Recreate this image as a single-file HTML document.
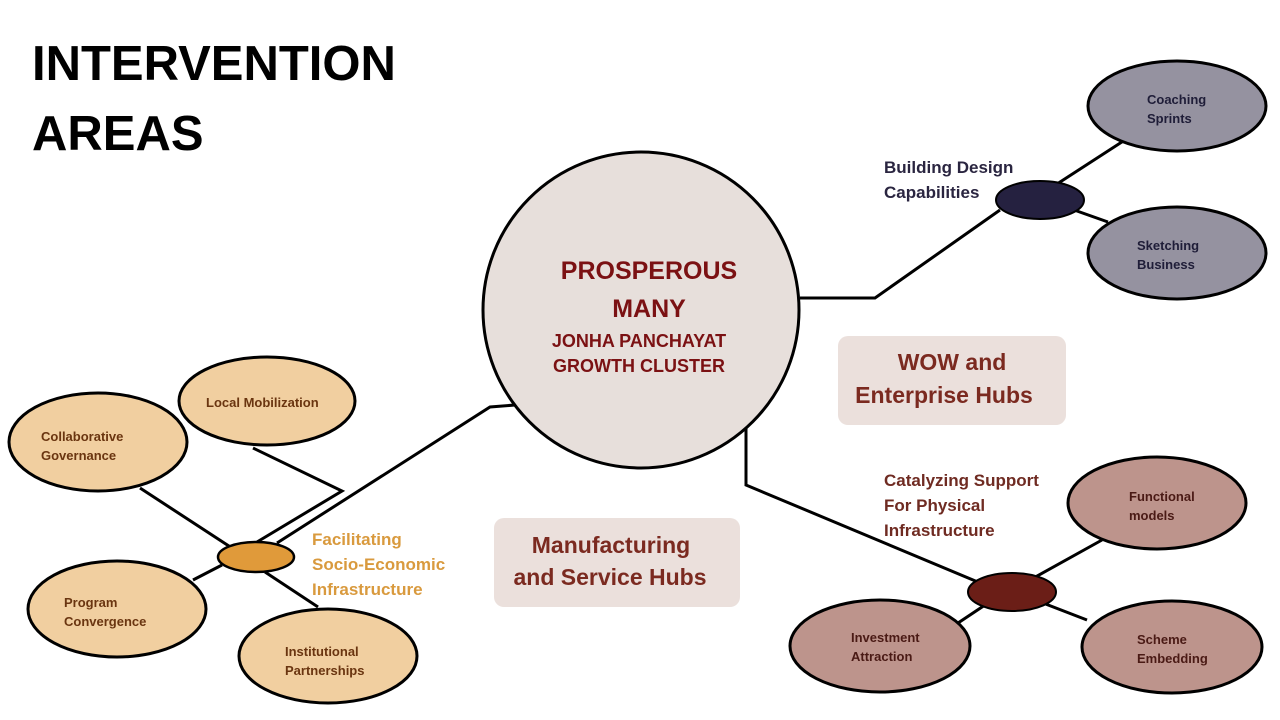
<!DOCTYPE html>
<html><head><meta charset="utf-8"><style>
html,body{margin:0;padding:0;background:#fff;}
svg{display:block;}
text{font-family:"Liberation Sans",sans-serif;font-weight:bold;}
</style></head><body>
<svg width="1280" height="720" viewBox="0 0 1280 720" xmlns="http://www.w3.org/2000/svg">
<rect width="1280" height="720" fill="#fff"/>
<text x="32" y="80" font-size="49" fill="#000">INTERVENTION</text>
<text x="32" y="150" font-size="49" fill="#000">AREAS</text>

<g stroke="#000" stroke-width="3" fill="none">
<polyline points="800,298 875,298 1000,210"/>
<line x1="1040" y1="195" x2="1128" y2="138"/>
<line x1="1060" y1="205" x2="1108" y2="222"/>
<polyline points="746,428 746,485 985,585"/>
<line x1="1012" y1="590" x2="1102" y2="540"/>
<line x1="1000" y1="595" x2="958" y2="623"/>
<line x1="1030" y1="598" x2="1087" y2="620"/>
<polyline points="515,405 490,407 277,543"/>
<polyline points="253,448 342,491 257,542"/>
<line x1="140" y1="488" x2="235" y2="550"/>
<line x1="193" y1="580" x2="222" y2="565"/>
<line x1="265" y1="572" x2="318" y2="607"/>
</g>

<circle cx="641" cy="310" r="158" fill="#e7dfdb" stroke="#000" stroke-width="3"/>
<g fill="#7b1113" text-anchor="middle">
<text x="649" y="279" font-size="25">PROSPEROUS</text>
<text x="649" y="317" font-size="25">MANY</text>
<text x="639" y="347" font-size="18">JONHA PANCHAYAT</text>
<text x="639" y="372" font-size="18">GROWTH CLUSTER</text>
</g>

<ellipse cx="1040" cy="200" rx="44" ry="19" fill="#252140" stroke="#000" stroke-width="2"/>
<ellipse cx="1177" cy="106" rx="89" ry="45" fill="#9592a0" stroke="#000" stroke-width="3"/>
<ellipse cx="1177" cy="253" rx="89" ry="46" fill="#9592a0" stroke="#000" stroke-width="3"/>
<g fill="#1f1d38" font-size="13">
<text x="1147" y="104">Coaching</text><text x="1147" y="123">Sprints</text>
<text x="1137" y="250">Sketching</text><text x="1137" y="269">Business</text>
</g>
<g fill="#2a2540" font-size="17">
<text x="884" y="173">Building Design</text><text x="884" y="198">Capabilities</text>
</g>

<rect x="838" y="336" width="228" height="89" rx="10" fill="#ebe0dc"/>
<g fill="#7b2a20" font-size="23" text-anchor="middle">
<text x="952" y="370">WOW and</text><text x="944" y="403">Enterprise Hubs</text>
</g>
<rect x="494" y="518" width="246" height="89" rx="10" fill="#ebe0dc"/>
<g fill="#7b2a20" font-size="23" text-anchor="middle">
<text x="611" y="553">Manufacturing</text><text x="610" y="585">and Service Hubs</text>
</g>

<ellipse cx="1012" cy="592" rx="44" ry="19" fill="#6b1e17" stroke="#000" stroke-width="2"/>
<ellipse cx="1157" cy="503" rx="89" ry="46" fill="#bd948c" stroke="#000" stroke-width="3"/>
<ellipse cx="880" cy="646" rx="90" ry="46" fill="#bd948c" stroke="#000" stroke-width="3"/>
<ellipse cx="1172" cy="647" rx="90" ry="46" fill="#bd948c" stroke="#000" stroke-width="3"/>
<g fill="#4a1a15" font-size="13">
<text x="1129" y="501">Functional</text><text x="1129" y="520">models</text>
<text x="851" y="642">Investment</text><text x="851" y="661">Attraction</text>
<text x="1137" y="644">Scheme</text><text x="1137" y="663">Embedding</text>
</g>
<g fill="#6f2b22" font-size="17">
<text x="884" y="486">Catalyzing Support</text><text x="884" y="511">For Physical</text><text x="884" y="536">Infrastructure</text>
</g>

<ellipse cx="256" cy="557" rx="38" ry="15" fill="#e09a3a" stroke="#000" stroke-width="2.5"/>
<g fill="#f1cfa0" stroke="#000" stroke-width="3">
<ellipse cx="267" cy="401" rx="88" ry="44"/>
<ellipse cx="98" cy="442" rx="89" ry="49"/>
<ellipse cx="117" cy="609" rx="89" ry="48"/>
<ellipse cx="328" cy="656" rx="89" ry="47"/>
</g>
<g fill="#6a3510" font-size="13">
<text x="206" y="407">Local Mobilization</text>
<text x="41" y="441">Collaborative</text><text x="41" y="460">Governance</text>
<text x="64" y="607">Program</text><text x="64" y="626">Convergence</text>
<text x="285" y="656">Institutional</text><text x="285" y="675">Partnerships</text>
</g>
<g fill="#d99a3e" font-size="17">
<text x="312" y="545">Facilitating</text><text x="312" y="570">Socio-Economic</text><text x="312" y="595">Infrastructure</text>
</g>
</svg>
</body></html>
